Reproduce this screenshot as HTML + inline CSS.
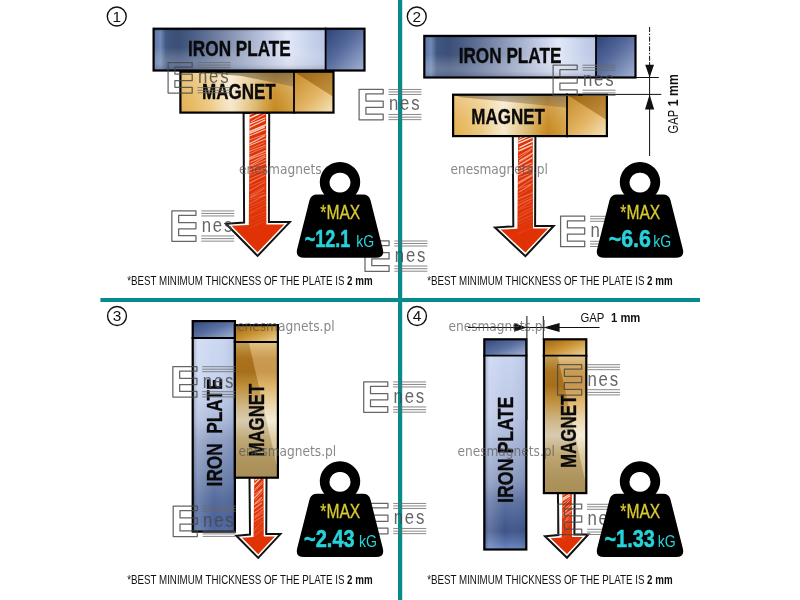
<!DOCTYPE html>
<html lang="en"><head><meta charset="utf-8"><title>Magnet holding force vs plate position</title>
<style>html,body{margin:0;padding:0;background:#fff;}body{width:800px;height:600px;overflow:hidden;}svg{display:block;will-change:transform;}</style>
</head><body>
<svg width="800" height="600" viewBox="0 0 800 600">
<defs>
<linearGradient id="ironH" x1="0" x2="1" y1="0" y2="0">
<stop offset="0.008" stop-color="#5f78a8"/><stop offset="0.040" stop-color="#7088b6"/><stop offset="0.072" stop-color="#40577f"/><stop offset="0.143" stop-color="#3b4f78"/><stop offset="0.223" stop-color="#4a5d84"/><stop offset="0.303" stop-color="#5e6f94"/><stop offset="0.382" stop-color="#7482a4"/><stop offset="0.462" stop-color="#8a97b6"/><stop offset="0.541" stop-color="#a0acc8"/><stop offset="0.621" stop-color="#b6c0da"/><stop offset="0.701" stop-color="#ccd4ea"/><stop offset="0.780" stop-color="#e2e8f8"/><stop offset="0.860" stop-color="#d2dbf0"/><stop offset="0.939" stop-color="#c2cde8"/><stop offset="1.000" stop-color="#bac7e4"/>
</linearGradient>
<linearGradient id="ironCap" x1="0" x2="1" y1="0" y2="1">
 <stop offset="0" stop-color="#2c4276"/><stop offset="0.45" stop-color="#566a9c"/><stop offset="1" stop-color="#a4b3d4"/>
</linearGradient>
<linearGradient id="ironEdge" x1="0" x2="0" y1="0" y2="1">
 <stop offset="0" stop-color="#1c2c55" stop-opacity="0.5"/><stop offset="0.07" stop-color="#1c2c55" stop-opacity="0"/>
 <stop offset="0.85" stop-color="#1c2c55" stop-opacity="0"/><stop offset="1" stop-color="#1c2c55" stop-opacity="0.25"/>
</linearGradient>
<linearGradient id="magH" x1="0" x2="1" y1="0" y2="0">
<stop offset="0" stop-color="#e2ae50"/><stop offset="0.1" stop-color="#e6b85e"/><stop offset="0.25" stop-color="#ecc880"/><stop offset="0.36" stop-color="#f2dcac"/><stop offset="0.445" stop-color="#f6e8cc"/><stop offset="0.55" stop-color="#ecd29c"/><stop offset="0.657" stop-color="#dcb870"/><stop offset="0.75" stop-color="#d09c3c"/><stop offset="0.83" stop-color="#c6861c"/><stop offset="0.92" stop-color="#cc9430"/><stop offset="1" stop-color="#d4a244"/>
</linearGradient>
<linearGradient id="magCapLo" x1="0" x2="1" y1="0" y2="1">
 <stop offset="0" stop-color="#c48a2a"/><stop offset="0.55" stop-color="#e3b463"/><stop offset="1" stop-color="#f6e4bd"/>
</linearGradient>
<linearGradient id="magCapHi" x1="0" x2="1" y1="0" y2="1">
 <stop offset="0" stop-color="#9a6210"/><stop offset="1" stop-color="#c79846"/>
</linearGradient>
<linearGradient id="ironLow" x1="0" x2="0" y1="0" y2="1">
 <stop offset="0" stop-color="#fff" stop-opacity="0"/><stop offset="0.45" stop-color="#fff" stop-opacity="0"/>
 <stop offset="0.8" stop-color="#c8cede" stop-opacity="0.3"/><stop offset="1" stop-color="#c8cede" stop-opacity="0.22"/>
</linearGradient>
<linearGradient id="magTop" x1="0" x2="0" y1="0" y2="1">
 <stop offset="0" stop-color="#fff" stop-opacity="0.3"/><stop offset="0.55" stop-color="#fff" stop-opacity="0.1"/><stop offset="1" stop-color="#fff" stop-opacity="0"/>
</linearGradient>
<linearGradient id="magShadow" x1="0" x2="0" y1="0" y2="1">
 <stop offset="0" stop-color="#4a3a20" stop-opacity="0.55"/><stop offset="1" stop-color="#4a3a20" stop-opacity="0.25"/>
</linearGradient>
<linearGradient id="ironV" x1="0" x2="0" y1="0" y2="1">
<stop offset="0" stop-color="#ccd8f2"/><stop offset="0.25" stop-color="#c6d2ee"/><stop offset="0.42" stop-color="#aebcdc"/><stop offset="0.53" stop-color="#8e9ec2"/><stop offset="0.65" stop-color="#788cb6"/><stop offset="0.74" stop-color="#6a7eaa"/><stop offset="0.84" stop-color="#546a9c"/><stop offset="0.94" stop-color="#48629a"/><stop offset="1" stop-color="#4e68a0"/>
</linearGradient>
<linearGradient id="ironV4" x1="0" x2="0" y1="0" y2="1">
<stop offset="0" stop-color="#c8d4f0"/><stop offset="0.3" stop-color="#bcc8e6"/><stop offset="0.5" stop-color="#a2b0d2"/><stop offset="0.65" stop-color="#8696be"/><stop offset="0.75" stop-color="#5e72a0"/><stop offset="0.83" stop-color="#4c6294"/><stop offset="0.905" stop-color="#3e5488"/><stop offset="0.96" stop-color="#5470a8"/><stop offset="1" stop-color="#6c88c0"/>
</linearGradient>
<linearGradient id="ironVside" x1="0" x2="1" y1="0" y2="0">
 <stop offset="0" stop-color="#2a3c6c" stop-opacity="0.35"/><stop offset="0.12" stop-color="#ffffff" stop-opacity="0.18"/>
 <stop offset="0.5" stop-color="#ffffff" stop-opacity="0"/><stop offset="1" stop-color="#2a3c6c" stop-opacity="0.12"/>
</linearGradient>
<linearGradient id="ironCapV" x1="0" x2="1" y1="0" y2="1">
 <stop offset="0" stop-color="#32487c"/><stop offset="0.5" stop-color="#5a70a2"/><stop offset="1" stop-color="#a5b5d7"/>
</linearGradient>
<linearGradient id="magV" x1="0" x2="0" y1="0" y2="1">
<stop offset="0" stop-color="#d8b470"/><stop offset="0.05" stop-color="#cc9a40"/><stop offset="0.12" stop-color="#bc7c1c"/><stop offset="0.22" stop-color="#b87818"/><stop offset="0.33" stop-color="#d4a040"/><stop offset="0.48" stop-color="#e8d0a0"/><stop offset="0.58" stop-color="#f2e6cc"/><stop offset="0.72" stop-color="#d4bc84"/><stop offset="0.88" stop-color="#c0a468"/><stop offset="1" stop-color="#b89c60"/>
</linearGradient>
<linearGradient id="magCapV" x1="0" x2="1" y1="0" y2="1">
 <stop offset="0" stop-color="#9d6512"/><stop offset="0.45" stop-color="#c8902f"/><stop offset="1" stop-color="#efd59a"/>
</linearGradient>
<linearGradient id="magVshine" x1="0" x2="1" y1="0" y2="0.35">
 <stop offset="0" stop-color="#7a4c08" stop-opacity="0.28"/><stop offset="0.45" stop-color="#7a4c08" stop-opacity="0"/>
 <stop offset="0.55" stop-color="#fff" stop-opacity="0.18"/><stop offset="1" stop-color="#fff" stop-opacity="0"/>
</linearGradient>
<pattern id="hatch" width="4.2" height="4.2" patternUnits="userSpaceOnUse" patternTransform="rotate(-24)">
 <rect x="0" y="0" width="4.2" height="1.35" fill="#fff"/>
</pattern>
<linearGradient id="fadeg" x1="0" x2="0" y1="0" y2="1">
 <stop offset="0" stop-color="#fff" stop-opacity="0.75"/><stop offset="0.45" stop-color="#fff" stop-opacity="0.5"/>
 <stop offset="0.85" stop-color="#fff" stop-opacity="0.12"/><stop offset="1" stop-color="#fff" stop-opacity="0"/>
</linearGradient>
<mask id="fade1" maskUnits="userSpaceOnUse" x="240" y="110" width="40" height="120"><rect x="240" y="112" width="40" height="112" fill="url(#fadeg)"/></mask>
<mask id="fade2" maskUnits="userSpaceOnUse" x="505" y="130" width="40" height="110"><rect x="505" y="135" width="40" height="94" fill="url(#fadeg)"/></mask>
<mask id="fade3" maskUnits="userSpaceOnUse" x="240" y="470" width="40" height="70"><rect x="240" y="477" width="40" height="59" fill="url(#fadeg)"/></mask>
<mask id="fade4" maskUnits="userSpaceOnUse" x="550" y="485" width="40" height="60"><rect x="550" y="492" width="40" height="45" fill="url(#fadeg)"/></mask>
</defs>
<rect width="800" height="600" fill="#fff"/>
<!-- panel 1 -->
<path d="M243.6,113 L244.1,222.6 L226,223.79999999999998 L257.6,255.9 L289.8,222.1 L268.9,222.1 L269.2,113 Z" fill="#fff" stroke="#111" stroke-width="2" stroke-linejoin="miter"/>
<clipPath id="ac1"><path d="M249.6,113 L248.79999999999998,225.0 L231.6,225.8 L257.6,252.3 L284.2,224.6 L266.4,224.6 L266.09999999999997,113 Z"/></clipPath>
<g clip-path="url(#ac1)">
<rect x="226" y="113" width="63.80000000000001" height="142.9" fill="#e03205"/>
<line x1="249.5" y1="114.6" x2="266.8" y2="107.4" stroke="#fff" stroke-width="1.07" opacity="0.93"/>
<line x1="248.3" y1="118.8" x2="265.8" y2="110.7" stroke="#fff" stroke-width="1.32" opacity="0.91"/>
<line x1="250.8" y1="122.0" x2="267.3" y2="112.7" stroke="#fff" stroke-width="0.75" opacity="0.89"/>
<line x1="248.7" y1="124.7" x2="265.4" y2="117.7" stroke="#fff" stroke-width="1.10" opacity="0.85"/>
<line x1="248.2" y1="128.2" x2="265.1" y2="120.0" stroke="#fff" stroke-width="1.19" opacity="0.82"/>
<line x1="247.9" y1="132.2" x2="267.4" y2="124.3" stroke="#fff" stroke-width="1.47" opacity="0.78"/>
<line x1="248.9" y1="133.7" x2="264.7" y2="127.0" stroke="#fff" stroke-width="1.44" opacity="0.76"/>
<line x1="248.0" y1="136.6" x2="265.6" y2="129.3" stroke="#fff" stroke-width="1.05" opacity="0.73"/>
<line x1="249.0" y1="140.0" x2="267.3" y2="133.6" stroke="#fff" stroke-width="0.66" opacity="0.70"/>
<line x1="249.4" y1="143.8" x2="264.8" y2="135.7" stroke="#fff" stroke-width="1.32" opacity="0.67"/>
<line x1="249.6" y1="145.4" x2="267.1" y2="138.4" stroke="#fff" stroke-width="1.07" opacity="0.65"/>
<line x1="250.2" y1="148.7" x2="264.6" y2="142.5" stroke="#fff" stroke-width="0.60" opacity="0.62"/>
<line x1="248.6" y1="151.7" x2="265.5" y2="145.2" stroke="#fff" stroke-width="0.91" opacity="0.59"/>
<line x1="248.3" y1="154.3" x2="265.5" y2="147.0" stroke="#fff" stroke-width="0.62" opacity="0.57"/>
<line x1="248.8" y1="158.1" x2="266.1" y2="150.7" stroke="#fff" stroke-width="1.28" opacity="0.54"/>
<line x1="248.8" y1="159.6" x2="267.2" y2="152.8" stroke="#fff" stroke-width="1.21" opacity="0.52"/>
<line x1="250.4" y1="162.6" x2="265.4" y2="155.6" stroke="#fff" stroke-width="1.08" opacity="0.50"/>
<line x1="249.4" y1="166.0" x2="265.6" y2="156.9" stroke="#fff" stroke-width="1.03" opacity="0.48"/>
<line x1="249.0" y1="167.1" x2="266.1" y2="159.8" stroke="#fff" stroke-width="0.99" opacity="0.46"/>
<line x1="248.3" y1="170.4" x2="266.1" y2="162.9" stroke="#fff" stroke-width="1.04" opacity="0.43"/>
<line x1="247.8" y1="173.6" x2="265.8" y2="167.9" stroke="#fff" stroke-width="0.92" opacity="0.40"/>
<line x1="249.2" y1="175.6" x2="264.4" y2="169.7" stroke="#fff" stroke-width="0.59" opacity="0.39"/>
<line x1="249.3" y1="179.3" x2="266.1" y2="172.0" stroke="#fff" stroke-width="0.96" opacity="0.36"/>
<line x1="249.1" y1="183.3" x2="265.5" y2="175.0" stroke="#fff" stroke-width="1.40" opacity="0.34"/>
<line x1="249.7" y1="186.4" x2="265.3" y2="179.9" stroke="#fff" stroke-width="0.65" opacity="0.31"/>
<line x1="249.2" y1="190.9" x2="265.0" y2="182.1" stroke="#fff" stroke-width="1.09" opacity="0.28"/>
<line x1="250.0" y1="195.1" x2="264.7" y2="186.2" stroke="#fff" stroke-width="0.94" opacity="0.25"/>
<line x1="250.7" y1="196.8" x2="264.5" y2="188.2" stroke="#fff" stroke-width="1.41" opacity="0.24"/>
<line x1="249.6" y1="198.0" x2="264.6" y2="192.0" stroke="#fff" stroke-width="1.17" opacity="0.22"/>
<line x1="248.4" y1="200.2" x2="266.8" y2="194.4" stroke="#fff" stroke-width="0.85" opacity="0.21"/>
<line x1="249.2" y1="203.8" x2="265.2" y2="194.8" stroke="#fff" stroke-width="1.50" opacity="0.19"/>
<line x1="249.8" y1="206.4" x2="265.7" y2="199.2" stroke="#fff" stroke-width="1.02" opacity="0.17"/>
<line x1="249.7" y1="209.2" x2="266.8" y2="201.2" stroke="#fff" stroke-width="0.86" opacity="0.16"/>
<line x1="249.8" y1="213.0" x2="267.2" y2="204.0" stroke="#fff" stroke-width="1.37" opacity="0.14"/>
<line x1="248.6" y1="214.2" x2="266.0" y2="208.4" stroke="#fff" stroke-width="0.59" opacity="0.12"/>
<line x1="249.9" y1="218.2" x2="265.9" y2="211.6" stroke="#fff" stroke-width="1.13" opacity="0.11"/>
<line x1="248.8" y1="221.6" x2="265.2" y2="214.3" stroke="#fff" stroke-width="0.76" opacity="0.09"/>
<line x1="249.2" y1="224.6" x2="265.3" y2="217.2" stroke="#fff" stroke-width="0.95" opacity="0.08"/>
<line x1="250.2" y1="228.0" x2="264.5" y2="220.9" stroke="#fff" stroke-width="1.30" opacity="0.08"/>
</g>
<rect x="180.4" y="71.69999999999999" width="113.6" height="40.900000000000006" fill="url(#magH)"/>
<rect x="180.4" y="71.69999999999999" width="113.6" height="40.900000000000006" fill="url(#magTop)"/>
<rect x="294" y="71.69999999999999" width="39.5" height="40.90000000000002" fill="url(#magCapLo)"/>
<path d="M294,71.69999999999999 H333.5 V97.05799999999999 Z" fill="url(#magCapHi)"/>
<path d="M180.4,71.69999999999999 H294 V86.69999999999999 L240.4,75.69999999999999 Z" fill="url(#magShadow)"/>
<rect x="180.4" y="71.69999999999999" width="153.10000000000002" height="40.900000000000006" fill="none" stroke="#000" stroke-width="2.2"/>
<line x1="294" x2="294" y1="70.6" y2="113.7" stroke="#000" stroke-width="1.8"/>
<rect x="153.6" y="28.700000000000003" width="172.00000000000003" height="41.79999999999999" fill="url(#ironH)"/>
<rect x="153.6" y="28.700000000000003" width="172.00000000000003" height="41.79999999999999" fill="url(#ironEdge)"/>
<rect x="153.6" y="28.700000000000003" width="172.00000000000003" height="41.79999999999999" fill="url(#ironLow)"/>
<rect x="325.6" y="28.700000000000003" width="38.9" height="41.79999999999999" fill="url(#ironCap)"/>
<rect x="153.6" y="28.700000000000003" width="210.90000000000003" height="41.79999999999999" fill="none" stroke="#000" stroke-width="2.2"/>
<line x1="325.6" x2="325.6" y1="27.6" y2="71.6" stroke="#000" stroke-width="1.8"/>
<text transform="translate(188.1,55.7) scale(0.8107,1)" font-family="'Liberation Sans', sans-serif" font-size="21.2" font-weight="bold" fill="#0a0a0a" stroke="#0a0a0a" stroke-width="0.35" xml:space="preserve">IRON PLATE</text>
<text transform="translate(202,98.9) scale(0.8034,1)" font-family="'Liberation Sans', sans-serif" font-size="21.2" font-weight="bold" fill="#0a0a0a" stroke="#0a0a0a" stroke-width="0.35" xml:space="preserve">MAGNET</text>
<circle cx="116.75" cy="16.5" r="9.45" fill="#fff" stroke="#111" stroke-width="1.4"/><text x="116.75" y="21.6" text-anchor="middle" font-family="'Liberation Sans', sans-serif" font-size="15.4" fill="#111">1</text>
<text transform="translate(127.2,285) scale(0.8205,1)" font-family="'Liberation Sans', sans-serif" font-size="11.9" fill="#111" xml:space="preserve">*BEST MINIMUM THICKNESS OF THE PLATE IS <tspan font-weight="bold">2 mm</tspan></text>
<!-- panel 2 -->
<path d="M512.8,136 L513.3,226.4 L495,227.6 L525.4,256.2 L553.7,225.9 L535.1,225.9 L535.4,136 Z" fill="#fff" stroke="#111" stroke-width="2" stroke-linejoin="miter"/>
<clipPath id="ac2"><path d="M518.1999999999999,136 L517.4,228.8 L500.6,229.60000000000002 L525.4,252.6 L548.1,228.4 L533.0,228.4 L532.7,136 Z"/></clipPath>
<g clip-path="url(#ac2)">
<rect x="495" y="136" width="58.700000000000045" height="120.19999999999999" fill="#e03205"/>
<line x1="519.3" y1="138.4" x2="533.1" y2="129.6" stroke="#fff" stroke-width="1.02" opacity="0.93"/>
<line x1="516.7" y1="141.7" x2="533.9" y2="133.6" stroke="#fff" stroke-width="1.20" opacity="0.91"/>
<line x1="517.9" y1="143.6" x2="533.0" y2="137.1" stroke="#fff" stroke-width="1.25" opacity="0.88"/>
<line x1="519.4" y1="147.7" x2="533.8" y2="140.6" stroke="#fff" stroke-width="1.45" opacity="0.83"/>
<line x1="518.5" y1="151.0" x2="532.3" y2="144.9" stroke="#fff" stroke-width="1.38" opacity="0.79"/>
<line x1="519.0" y1="155.9" x2="532.1" y2="148.2" stroke="#fff" stroke-width="0.71" opacity="0.74"/>
<line x1="517.8" y1="159.2" x2="531.0" y2="149.9" stroke="#fff" stroke-width="0.58" opacity="0.71"/>
<line x1="519.2" y1="161.1" x2="533.9" y2="152.3" stroke="#fff" stroke-width="1.31" opacity="0.69"/>
<line x1="517.5" y1="163.7" x2="531.1" y2="155.2" stroke="#fff" stroke-width="0.55" opacity="0.66"/>
<line x1="517.1" y1="166.6" x2="532.3" y2="157.6" stroke="#fff" stroke-width="1.27" opacity="0.63"/>
<line x1="517.2" y1="169.7" x2="531.6" y2="162.7" stroke="#fff" stroke-width="1.03" opacity="0.58"/>
<line x1="518.1" y1="172.3" x2="533.6" y2="164.6" stroke="#fff" stroke-width="1.10" opacity="0.56"/>
<line x1="517.4" y1="175.2" x2="531.3" y2="168.5" stroke="#fff" stroke-width="1.42" opacity="0.52"/>
<line x1="518.7" y1="177.8" x2="533.0" y2="172.3" stroke="#fff" stroke-width="0.77" opacity="0.49"/>
<line x1="518.6" y1="182.0" x2="533.1" y2="173.9" stroke="#fff" stroke-width="0.77" opacity="0.46"/>
<line x1="516.5" y1="184.5" x2="532.3" y2="175.4" stroke="#fff" stroke-width="1.49" opacity="0.44"/>
<line x1="519.3" y1="187.6" x2="532.2" y2="179.2" stroke="#fff" stroke-width="0.90" opacity="0.40"/>
<line x1="516.9" y1="189.4" x2="533.7" y2="182.9" stroke="#fff" stroke-width="0.70" opacity="0.38"/>
<line x1="518.8" y1="192.3" x2="531.2" y2="184.6" stroke="#fff" stroke-width="1.34" opacity="0.36"/>
<line x1="516.7" y1="196.8" x2="531.7" y2="187.6" stroke="#fff" stroke-width="0.55" opacity="0.32"/>
<line x1="516.6" y1="199.6" x2="533.7" y2="192.4" stroke="#fff" stroke-width="1.16" opacity="0.29"/>
<line x1="517.2" y1="203.1" x2="533.5" y2="195.5" stroke="#fff" stroke-width="0.74" opacity="0.26"/>
<line x1="517.6" y1="205.6" x2="532.5" y2="198.1" stroke="#fff" stroke-width="1.22" opacity="0.24"/>
<line x1="519.3" y1="208.6" x2="531.7" y2="201.3" stroke="#fff" stroke-width="1.02" opacity="0.21"/>
<line x1="517.5" y1="210.4" x2="533.9" y2="204.2" stroke="#fff" stroke-width="0.82" opacity="0.19"/>
<line x1="519.1" y1="214.5" x2="533.0" y2="207.3" stroke="#fff" stroke-width="1.07" opacity="0.17"/>
<line x1="518.2" y1="217.9" x2="532.9" y2="210.2" stroke="#fff" stroke-width="1.43" opacity="0.14"/>
<line x1="517.5" y1="221.6" x2="532.2" y2="214.9" stroke="#fff" stroke-width="1.25" opacity="0.12"/>
<line x1="518.1" y1="224.5" x2="531.9" y2="218.2" stroke="#fff" stroke-width="1.02" opacity="0.10"/>
<line x1="517.9" y1="228.6" x2="532.4" y2="221.3" stroke="#fff" stroke-width="0.95" opacity="0.08"/>
<line x1="519.4" y1="231.2" x2="531.5" y2="224.6" stroke="#fff" stroke-width="0.51" opacity="0.08"/>
<line x1="517.2" y1="234.0" x2="532.4" y2="227.7" stroke="#fff" stroke-width="1.25" opacity="0.08"/>
</g>
<rect x="453.1" y="94.69999999999999" width="113.9" height="41.39999999999999" fill="url(#magH)"/>
<rect x="453.1" y="94.69999999999999" width="113.9" height="41.39999999999999" fill="url(#magTop)"/>
<rect x="567" y="94.69999999999999" width="39.89999999999998" height="41.400000000000006" fill="url(#magCapLo)"/>
<path d="M567,94.69999999999999 H606.9 V120.368 Z" fill="url(#magCapHi)"/>
<path d="M453.1,94.69999999999999 H567 V107.69999999999999 L461.1,97.19999999999999 Z" fill="url(#magShadow)" opacity="0.85"/>
<rect x="453.1" y="94.69999999999999" width="153.8" height="41.39999999999999" fill="none" stroke="#000" stroke-width="2.2"/>
<line x1="567" x2="567" y1="93.6" y2="137.2" stroke="#000" stroke-width="1.8"/>
<rect x="424.3" y="35.9" width="171.70000000000002" height="41.599999999999994" fill="url(#ironH)"/>
<rect x="424.3" y="35.9" width="171.70000000000002" height="41.599999999999994" fill="url(#ironEdge)"/>
<rect x="424.3" y="35.9" width="171.70000000000002" height="41.599999999999994" fill="url(#ironLow)"/>
<rect x="596" y="35.9" width="39.50000000000002" height="41.599999999999994" fill="url(#ironCap)"/>
<rect x="424.3" y="35.9" width="211.20000000000005" height="41.599999999999994" fill="none" stroke="#000" stroke-width="2.2"/>
<line x1="596" x2="596" y1="34.8" y2="78.6" stroke="#000" stroke-width="1.8"/>
<text transform="translate(458.7,63.1) scale(0.8107,1)" font-family="'Liberation Sans', sans-serif" font-size="21.2" font-weight="bold" fill="#0a0a0a" stroke="#0a0a0a" stroke-width="0.35" xml:space="preserve">IRON PLATE</text>
<text transform="translate(471.3,124.2) scale(0.8023,1)" font-family="'Liberation Sans', sans-serif" font-size="21.2" font-weight="bold" fill="#0a0a0a" stroke="#0a0a0a" stroke-width="0.35" xml:space="preserve">MAGNET</text>
<g stroke="#111" stroke-width="1" fill="none">
<line x1="649.6" x2="649.6" y1="27" y2="62" stroke-dasharray="5 1.6 1.4 1.6"/>
<line x1="649.6" x2="649.6" y1="62" y2="156"/>
<line x1="636" x2="658.8" y1="77.5" y2="77.5"/>
<line x1="608" x2="661.3" y1="94.4" y2="94.4"/>
</g>
<path d="M649.6,77.6 L645.2,64.8 L654,64.8 Z M649.6,94.4 L645,109.6 L654.2,109.6 Z" fill="#111"/>
<text transform="translate(678.3,133.4) rotate(-90) scale(0.7982,1)" font-family="'Liberation Sans', sans-serif" font-size="14" fill="#111" xml:space="preserve">GAP</text>
<text transform="translate(678.3,106.2) rotate(-90) scale(0.8750,1)" font-family="'Liberation Sans', sans-serif" font-size="14" font-weight="bold" fill="#111" xml:space="preserve">1 mm</text>
<circle cx="416.75" cy="16.5" r="9.45" fill="#fff" stroke="#111" stroke-width="1.4"/><text x="416.75" y="21.6" text-anchor="middle" font-family="'Liberation Sans', sans-serif" font-size="15.4" fill="#111">2</text>
<text transform="translate(427.2,285) scale(0.8205,1)" font-family="'Liberation Sans', sans-serif" font-size="11.9" fill="#111" xml:space="preserve">*BEST MINIMUM THICKNESS OF THE PLATE IS <tspan font-weight="bold">2 mm</tspan></text>
<!-- panel 3 -->
<path d="M249.5,477 L250.0,534.6 L236.4,535.8000000000001 L258.2,557.9 L280.4,534.1 L266.2,534.1 L266.5,477 Z" fill="#fff" stroke="#111" stroke-width="2" stroke-linejoin="miter"/>
<clipPath id="ac3"><path d="M254.3,477 L253.5,537.0 L242.0,537.8 L258.2,554.3 L274.79999999999995,536.6 L263.8,536.6 L263.5,477 Z"/></clipPath>
<g clip-path="url(#ac3)">
<rect x="236.4" y="477" width="43.99999999999997" height="80.89999999999998" fill="#e03205"/>
<line x1="253.0" y1="479.4" x2="261.8" y2="470.6" stroke="#fff" stroke-width="1.21" opacity="0.93"/>
<line x1="254.8" y1="480.2" x2="264.3" y2="474.3" stroke="#fff" stroke-width="1.17" opacity="0.92"/>
<line x1="253.8" y1="485.0" x2="262.2" y2="476.5" stroke="#fff" stroke-width="1.22" opacity="0.86"/>
<line x1="255.4" y1="488.7" x2="262.6" y2="481.1" stroke="#fff" stroke-width="0.62" opacity="0.78"/>
<line x1="252.8" y1="492.5" x2="262.5" y2="483.1" stroke="#fff" stroke-width="0.80" opacity="0.73"/>
<line x1="253.4" y1="495.0" x2="263.2" y2="488.2" stroke="#fff" stroke-width="0.66" opacity="0.66"/>
<line x1="253.4" y1="498.9" x2="262.1" y2="489.7" stroke="#fff" stroke-width="1.39" opacity="0.61"/>
<line x1="254.9" y1="500.4" x2="262.3" y2="492.2" stroke="#fff" stroke-width="0.60" opacity="0.58"/>
<line x1="254.7" y1="503.7" x2="262.0" y2="497.2" stroke="#fff" stroke-width="1.36" opacity="0.51"/>
<line x1="252.9" y1="505.5" x2="263.4" y2="499.4" stroke="#fff" stroke-width="0.99" opacity="0.48"/>
<line x1="254.0" y1="508.9" x2="261.8" y2="502.9" stroke="#fff" stroke-width="1.47" opacity="0.42"/>
<line x1="254.4" y1="512.8" x2="264.0" y2="506.3" stroke="#fff" stroke-width="1.03" opacity="0.37"/>
<line x1="254.9" y1="516.4" x2="263.6" y2="509.3" stroke="#fff" stroke-width="1.15" opacity="0.32"/>
<line x1="253.1" y1="519.0" x2="263.1" y2="512.5" stroke="#fff" stroke-width="1.33" opacity="0.28"/>
<line x1="253.6" y1="521.9" x2="264.6" y2="515.4" stroke="#fff" stroke-width="1.37" opacity="0.24"/>
<line x1="254.8" y1="525.2" x2="264.7" y2="517.9" stroke="#fff" stroke-width="0.81" opacity="0.20"/>
<line x1="254.1" y1="530.1" x2="263.1" y2="521.3" stroke="#fff" stroke-width="1.21" opacity="0.16"/>
<line x1="253.4" y1="531.7" x2="263.9" y2="525.3" stroke="#fff" stroke-width="0.90" opacity="0.13"/>
<line x1="254.4" y1="535.4" x2="264.7" y2="526.7" stroke="#fff" stroke-width="1.41" opacity="0.10"/>
<line x1="253.8" y1="537.6" x2="262.9" y2="529.4" stroke="#fff" stroke-width="1.04" opacity="0.08"/>
<line x1="254.8" y1="541.0" x2="263.8" y2="534.0" stroke="#fff" stroke-width="0.77" opacity="0.08"/>
</g>
<rect x="192.7" y="338" width="42.2" height="193.60000000000005" fill="url(#ironV)"/>
<rect x="192.7" y="338" width="42.2" height="193.60000000000005" fill="url(#ironVside)"/>
<rect x="192.7" y="321.1" width="42.2" height="16.9" fill="url(#ironCapV)"/>
<rect x="192.7" y="321.1" width="42.2" height="210.50000000000006" fill="none" stroke="#000" stroke-width="2.2"/>
<line x1="191.6" x2="236" y1="338" y2="338" stroke="#000" stroke-width="1.8"/>
<rect x="234.9" y="342" width="42.999999999999986" height="135.70000000000002" fill="url(#magV)"/>
<path d="M248.716,342 H277.9 V470.8 Z" fill="#fff" opacity="0.24"/>
<path d="M234.9,342 H248.716 L277.9,470.8 V477.7 H234.9 Z" fill="#5a4a28" opacity="0.17"/>
<rect x="234.9" y="325.1" width="42.999999999999986" height="16.9" fill="url(#magCapV)"/>
<rect x="234.9" y="325.1" width="42.999999999999986" height="152.60000000000002" fill="none" stroke="#000" stroke-width="2.2"/>
<line x1="233.8" x2="279" y1="342" y2="342" stroke="#000" stroke-width="1.8"/>
<text transform="translate(221.8,486.4) rotate(-90) scale(0.8139,1)" font-family="'Liberation Sans', sans-serif" font-size="21.2" font-weight="bold" fill="#0a0a0a" stroke="#0a0a0a" stroke-width="0.35" xml:space="preserve">IRON  PLATE</text>
<text transform="translate(263.7,456.6) rotate(-90) scale(0.7947,1)" font-family="'Liberation Sans', sans-serif" font-size="21.2" font-weight="bold" fill="#0a0a0a" stroke="#0a0a0a" stroke-width="0.35" xml:space="preserve">MAGNET</text>
<circle cx="117" cy="316" r="9.45" fill="#fff" stroke="#111" stroke-width="1.4"/><text x="117" y="321.1" text-anchor="middle" font-family="'Liberation Sans', sans-serif" font-size="15.4" fill="#111">3</text>
<text transform="translate(127.2,584) scale(0.8205,1)" font-family="'Liberation Sans', sans-serif" font-size="11.9" fill="#111" xml:space="preserve">*BEST MINIMUM THICKNESS OF THE PLATE IS <tspan font-weight="bold">2 mm</tspan></text>
<!-- panel 4 -->
<path d="M557.9,492 L558.4,535 L545,536.2 L567,557.7 L588.3,534.5 L574.4000000000001,534.5 L574.7,492 Z" fill="#fff" stroke="#111" stroke-width="2" stroke-linejoin="miter"/>
<clipPath id="ac4"><path d="M562.4999999999999,492 L561.6999999999999,537.4 L550.6,538.1999999999999 L567,554.1 L582.6999999999999,537.0 L572.1,537.0 L571.8000000000001,492 Z"/></clipPath>
<g clip-path="url(#ac4)">
<rect x="545" y="492" width="43.299999999999955" height="65.70000000000005" fill="#e03205"/>
<line x1="561.9" y1="493.0" x2="571.0" y2="487.0" stroke="#fff" stroke-width="0.51" opacity="0.93"/>
<line x1="563.0" y1="495.3" x2="572.7" y2="488.9" stroke="#fff" stroke-width="0.61" opacity="0.93"/>
<line x1="562.3" y1="498.7" x2="571.8" y2="492.7" stroke="#fff" stroke-width="1.16" opacity="0.84"/>
<line x1="560.8" y1="501.4" x2="570.3" y2="495.6" stroke="#fff" stroke-width="1.50" opacity="0.77"/>
<line x1="561.8" y1="504.7" x2="570.2" y2="497.9" stroke="#fff" stroke-width="0.70" opacity="0.70"/>
<line x1="562.3" y1="507.5" x2="570.2" y2="499.7" stroke="#fff" stroke-width="0.72" opacity="0.65"/>
<line x1="563.2" y1="510.5" x2="570.1" y2="504.2" stroke="#fff" stroke-width="0.86" opacity="0.56"/>
<line x1="562.7" y1="513.7" x2="572.4" y2="504.8" stroke="#fff" stroke-width="1.24" opacity="0.52"/>
<line x1="562.6" y1="516.1" x2="572.4" y2="509.8" stroke="#fff" stroke-width="1.23" opacity="0.44"/>
<line x1="561.9" y1="518.3" x2="571.2" y2="511.5" stroke="#fff" stroke-width="0.84" opacity="0.40"/>
<line x1="563.7" y1="523.4" x2="570.7" y2="514.0" stroke="#fff" stroke-width="1.46" opacity="0.32"/>
<line x1="562.3" y1="525.2" x2="571.1" y2="517.2" stroke="#fff" stroke-width="0.68" opacity="0.27"/>
<line x1="562.5" y1="527.8" x2="571.0" y2="518.6" stroke="#fff" stroke-width="0.69" opacity="0.24"/>
<line x1="562.6" y1="529.8" x2="570.1" y2="520.7" stroke="#fff" stroke-width="0.90" opacity="0.20"/>
<line x1="562.0" y1="531.9" x2="570.7" y2="523.2" stroke="#fff" stroke-width="0.95" opacity="0.17"/>
<line x1="563.6" y1="533.6" x2="572.7" y2="527.7" stroke="#fff" stroke-width="0.62" opacity="0.12"/>
<line x1="563.3" y1="537.1" x2="571.7" y2="528.8" stroke="#fff" stroke-width="0.84" opacity="0.10"/>
<line x1="561.8" y1="539.3" x2="571.3" y2="532.6" stroke="#fff" stroke-width="1.29" opacity="0.08"/>
<line x1="561.1" y1="542.2" x2="570.9" y2="536.3" stroke="#fff" stroke-width="0.54" opacity="0.08"/>
</g>
<rect x="484.3" y="355.6" width="41.999999999999986" height="193.9" fill="url(#ironV4)"/>
<rect x="484.3" y="355.6" width="41.999999999999986" height="193.9" fill="url(#ironVside)"/>
<rect x="484.3" y="339.3" width="41.999999999999986" height="16.300000000000033" fill="url(#ironCapV)"/>
<rect x="484.3" y="339.3" width="41.999999999999986" height="210.20000000000005" fill="none" stroke="#000" stroke-width="2.2"/>
<line x1="483.2" x2="527.4" y1="355.6" y2="355.6" stroke="#000" stroke-width="1.8"/>
<rect x="543.9" y="355.6" width="42.40000000000002" height="137.49999999999997" fill="url(#magV)"/>
<path d="M557.5179999999999,355.6 H586.3 V486.2 Z" fill="#fff" opacity="0.24"/>
<path d="M543.9,355.6 H557.5179999999999 L586.3,486.2 V493.09999999999997 H543.9 Z" fill="#5a4a28" opacity="0.17"/>
<rect x="543.9" y="339.3" width="42.40000000000002" height="16.300000000000033" fill="url(#magCapV)"/>
<rect x="543.9" y="339.3" width="42.40000000000002" height="153.8" fill="none" stroke="#000" stroke-width="2.2"/>
<line x1="542.8" x2="587.4" y1="355.6" y2="355.6" stroke="#000" stroke-width="1.8"/>
<text transform="translate(513.4,503) rotate(-90) scale(0.8399,1)" font-family="'Liberation Sans', sans-serif" font-size="21.2" font-weight="bold" fill="#0a0a0a" stroke="#0a0a0a" stroke-width="0.35" xml:space="preserve">IRON PLATE</text>
<text transform="translate(576.3,468) rotate(-90) scale(0.7990,1)" font-family="'Liberation Sans', sans-serif" font-size="21.2" font-weight="bold" fill="#0a0a0a" stroke="#0a0a0a" stroke-width="0.35" xml:space="preserve">MAGNET</text>
<g stroke="#111" stroke-width="1" fill="none">
<line x1="526.9" x2="526.9" y1="316" y2="420"/>
<line x1="543.3" x2="543.3" y1="316" y2="340"/>
<line x1="468" x2="599.6" y1="327.5" y2="327.5"/>
</g>
<path d="M526.8,327.5 L514.2,323.3 L514.2,331.7 Z M543.4,327.5 L559.6,323.1 L559.6,331.9 Z" fill="#111"/>
<text transform="translate(580.4,322) scale(0.8356,1)" font-family="'Liberation Sans', sans-serif" font-size="13.6" fill="#111" xml:space="preserve">GAP</text>
<text transform="translate(611,322) scale(0.8275,1)" font-family="'Liberation Sans', sans-serif" font-size="13.6" font-weight="bold" fill="#111" xml:space="preserve">1 mm</text>
<circle cx="417" cy="316" r="9.45" fill="#fff" stroke="#111" stroke-width="1.4"/><text x="417" y="321.1" text-anchor="middle" font-family="'Liberation Sans', sans-serif" font-size="15.4" fill="#111">4</text>
<text transform="translate(427.2,584) scale(0.8205,1)" font-family="'Liberation Sans', sans-serif" font-size="11.9" fill="#111" xml:space="preserve">*BEST MINIMUM THICKNESS OF THE PLATE IS <tspan font-weight="bold">2 mm</tspan></text>
<rect x="100.4" y="298" width="599.6" height="4" fill="#058b8b"/>
<rect x="398" y="0" width="4.2" height="600" fill="#058b8b"/>
<!-- watermarks -->
<g transform="translate(167.50,61.90)" opacity="0.84">
<path d="M0.6,0.6 H24.7 V5.2 H7.4 V12.3 H24.7 V18.6 H7.4 V25.4 H24.7 V31.1 H0.6 Z" fill="none" stroke="#484848" stroke-width="1.25" stroke-linejoin="round"/>
<line x1="30" x2="63" y1="0.7" y2="0.7" stroke="#6a6a6a" stroke-width="0.95"/>
<line x1="30" x2="63" y1="3.2" y2="3.2" stroke="#6a6a6a" stroke-width="0.95"/>
<line x1="30" x2="63" y1="5.7" y2="5.7" stroke="#6a6a6a" stroke-width="0.95"/>
<line x1="30" x2="63" y1="25.7" y2="25.7" stroke="#6a6a6a" stroke-width="0.95"/>
<line x1="30" x2="63" y1="28.4" y2="28.4" stroke="#6a6a6a" stroke-width="0.95"/>
<line x1="30" x2="63" y1="30.9" y2="30.9" stroke="#6a6a6a" stroke-width="0.95"/>
<text transform="translate(30.4,21.5) scale(0.86,1)" font-family="'Liberation Sans', sans-serif" font-size="19.5" fill="#484848" letter-spacing="2.1">nes</text>
</g>
<g transform="translate(171.25,210.25)" opacity="0.84">
<path d="M0.6,0.6 H24.7 V5.2 H7.4 V12.3 H24.7 V18.6 H7.4 V25.4 H24.7 V31.1 H0.6 Z" fill="none" stroke="#484848" stroke-width="1.25" stroke-linejoin="round"/>
<line x1="30" x2="63" y1="0.7" y2="0.7" stroke="#6a6a6a" stroke-width="0.95"/>
<line x1="30" x2="63" y1="3.2" y2="3.2" stroke="#6a6a6a" stroke-width="0.95"/>
<line x1="30" x2="63" y1="5.7" y2="5.7" stroke="#6a6a6a" stroke-width="0.95"/>
<line x1="30" x2="63" y1="25.7" y2="25.7" stroke="#6a6a6a" stroke-width="0.95"/>
<line x1="30" x2="63" y1="28.4" y2="28.4" stroke="#6a6a6a" stroke-width="0.95"/>
<line x1="30" x2="63" y1="30.9" y2="30.9" stroke="#6a6a6a" stroke-width="0.95"/>
<text transform="translate(30.4,21.5) scale(0.86,1)" font-family="'Liberation Sans', sans-serif" font-size="19.5" fill="#484848" letter-spacing="2.1">nes</text>
</g>
<g transform="translate(172.25,366.00)" opacity="0.84">
<path d="M0.6,0.6 H24.7 V5.2 H7.4 V12.3 H24.7 V18.6 H7.4 V25.4 H24.7 V31.1 H0.6 Z" fill="none" stroke="#484848" stroke-width="1.25" stroke-linejoin="round"/>
<line x1="30" x2="63" y1="0.7" y2="0.7" stroke="#6a6a6a" stroke-width="0.95"/>
<line x1="30" x2="63" y1="3.2" y2="3.2" stroke="#6a6a6a" stroke-width="0.95"/>
<line x1="30" x2="63" y1="5.7" y2="5.7" stroke="#6a6a6a" stroke-width="0.95"/>
<line x1="30" x2="63" y1="25.7" y2="25.7" stroke="#6a6a6a" stroke-width="0.95"/>
<line x1="30" x2="63" y1="28.4" y2="28.4" stroke="#6a6a6a" stroke-width="0.95"/>
<line x1="30" x2="63" y1="30.9" y2="30.9" stroke="#6a6a6a" stroke-width="0.95"/>
<text transform="translate(30.4,21.5) scale(0.86,1)" font-family="'Liberation Sans', sans-serif" font-size="19.5" fill="#484848" letter-spacing="2.1">nes</text>
</g>
<g transform="translate(172.60,505.50)" opacity="0.84">
<path d="M0.6,0.6 H24.7 V5.2 H7.4 V12.3 H24.7 V18.6 H7.4 V25.4 H24.7 V31.1 H0.6 Z" fill="none" stroke="#484848" stroke-width="1.25" stroke-linejoin="round"/>
<line x1="30" x2="63" y1="0.7" y2="0.7" stroke="#6a6a6a" stroke-width="0.95"/>
<line x1="30" x2="63" y1="3.2" y2="3.2" stroke="#6a6a6a" stroke-width="0.95"/>
<line x1="30" x2="63" y1="5.7" y2="5.7" stroke="#6a6a6a" stroke-width="0.95"/>
<line x1="30" x2="63" y1="25.7" y2="25.7" stroke="#6a6a6a" stroke-width="0.95"/>
<line x1="30" x2="63" y1="28.4" y2="28.4" stroke="#6a6a6a" stroke-width="0.95"/>
<line x1="30" x2="63" y1="30.9" y2="30.9" stroke="#6a6a6a" stroke-width="0.95"/>
<text transform="translate(30.4,21.5) scale(0.86,1)" font-family="'Liberation Sans', sans-serif" font-size="19.5" fill="#484848" letter-spacing="2.1">nes</text>
</g>
<g transform="translate(358.50,88.75)" opacity="0.84">
<path d="M0.6,0.6 H24.7 V5.2 H7.4 V12.3 H24.7 V18.6 H7.4 V25.4 H24.7 V31.1 H0.6 Z" fill="none" stroke="#484848" stroke-width="1.25" stroke-linejoin="round"/>
<line x1="30" x2="63" y1="0.7" y2="0.7" stroke="#6a6a6a" stroke-width="0.95"/>
<line x1="30" x2="63" y1="3.2" y2="3.2" stroke="#6a6a6a" stroke-width="0.95"/>
<line x1="30" x2="63" y1="5.7" y2="5.7" stroke="#6a6a6a" stroke-width="0.95"/>
<line x1="30" x2="63" y1="25.7" y2="25.7" stroke="#6a6a6a" stroke-width="0.95"/>
<line x1="30" x2="63" y1="28.4" y2="28.4" stroke="#6a6a6a" stroke-width="0.95"/>
<line x1="30" x2="63" y1="30.9" y2="30.9" stroke="#6a6a6a" stroke-width="0.95"/>
<text transform="translate(30.4,21.5) scale(0.86,1)" font-family="'Liberation Sans', sans-serif" font-size="19.5" fill="#484848" letter-spacing="2.1">nes</text>
</g>
<g transform="translate(364.40,240.30)" opacity="0.84">
<path d="M0.6,0.6 H24.7 V5.2 H7.4 V12.3 H24.7 V18.6 H7.4 V25.4 H24.7 V31.1 H0.6 Z" fill="none" stroke="#484848" stroke-width="1.25" stroke-linejoin="round"/>
<line x1="30" x2="63" y1="0.7" y2="0.7" stroke="#6a6a6a" stroke-width="0.95"/>
<line x1="30" x2="63" y1="3.2" y2="3.2" stroke="#6a6a6a" stroke-width="0.95"/>
<line x1="30" x2="63" y1="5.7" y2="5.7" stroke="#6a6a6a" stroke-width="0.95"/>
<line x1="30" x2="63" y1="25.7" y2="25.7" stroke="#6a6a6a" stroke-width="0.95"/>
<line x1="30" x2="63" y1="28.4" y2="28.4" stroke="#6a6a6a" stroke-width="0.95"/>
<line x1="30" x2="63" y1="30.9" y2="30.9" stroke="#6a6a6a" stroke-width="0.95"/>
<text transform="translate(30.4,21.5) scale(0.86,1)" font-family="'Liberation Sans', sans-serif" font-size="19.5" fill="#484848" letter-spacing="2.1">nes</text>
</g>
<g transform="translate(363.10,381.25)" opacity="0.84">
<path d="M0.6,0.6 H24.7 V5.2 H7.4 V12.3 H24.7 V18.6 H7.4 V25.4 H24.7 V31.1 H0.6 Z" fill="none" stroke="#484848" stroke-width="1.25" stroke-linejoin="round"/>
<line x1="30" x2="63" y1="0.7" y2="0.7" stroke="#6a6a6a" stroke-width="0.95"/>
<line x1="30" x2="63" y1="3.2" y2="3.2" stroke="#6a6a6a" stroke-width="0.95"/>
<line x1="30" x2="63" y1="5.7" y2="5.7" stroke="#6a6a6a" stroke-width="0.95"/>
<line x1="30" x2="63" y1="25.7" y2="25.7" stroke="#6a6a6a" stroke-width="0.95"/>
<line x1="30" x2="63" y1="28.4" y2="28.4" stroke="#6a6a6a" stroke-width="0.95"/>
<line x1="30" x2="63" y1="30.9" y2="30.9" stroke="#6a6a6a" stroke-width="0.95"/>
<text transform="translate(30.4,21.5) scale(0.86,1)" font-family="'Liberation Sans', sans-serif" font-size="19.5" fill="#484848" letter-spacing="2.1">nes</text>
</g>
<g transform="translate(363.25,502.75)" opacity="0.84">
<path d="M0.6,0.6 H24.7 V5.2 H7.4 V12.3 H24.7 V18.6 H7.4 V25.4 H24.7 V31.1 H0.6 Z" fill="none" stroke="#484848" stroke-width="1.25" stroke-linejoin="round"/>
<line x1="30" x2="63" y1="0.7" y2="0.7" stroke="#6a6a6a" stroke-width="0.95"/>
<line x1="30" x2="63" y1="3.2" y2="3.2" stroke="#6a6a6a" stroke-width="0.95"/>
<line x1="30" x2="63" y1="5.7" y2="5.7" stroke="#6a6a6a" stroke-width="0.95"/>
<line x1="30" x2="63" y1="25.7" y2="25.7" stroke="#6a6a6a" stroke-width="0.95"/>
<line x1="30" x2="63" y1="28.4" y2="28.4" stroke="#6a6a6a" stroke-width="0.95"/>
<line x1="30" x2="63" y1="30.9" y2="30.9" stroke="#6a6a6a" stroke-width="0.95"/>
<text transform="translate(30.4,21.5) scale(0.86,1)" font-family="'Liberation Sans', sans-serif" font-size="19.5" fill="#484848" letter-spacing="2.1">nes</text>
</g>
<g transform="translate(552.50,64.50)" opacity="0.84">
<path d="M0.6,0.6 H24.7 V5.2 H7.4 V12.3 H24.7 V18.6 H7.4 V25.4 H24.7 V31.1 H0.6 Z" fill="none" stroke="#484848" stroke-width="1.25" stroke-linejoin="round"/>
<line x1="30" x2="63" y1="0.7" y2="0.7" stroke="#6a6a6a" stroke-width="0.95"/>
<line x1="30" x2="63" y1="3.2" y2="3.2" stroke="#6a6a6a" stroke-width="0.95"/>
<line x1="30" x2="63" y1="5.7" y2="5.7" stroke="#6a6a6a" stroke-width="0.95"/>
<line x1="30" x2="63" y1="25.7" y2="25.7" stroke="#6a6a6a" stroke-width="0.95"/>
<line x1="30" x2="63" y1="28.4" y2="28.4" stroke="#6a6a6a" stroke-width="0.95"/>
<line x1="30" x2="63" y1="30.9" y2="30.9" stroke="#6a6a6a" stroke-width="0.95"/>
<text transform="translate(30.4,21.5) scale(0.86,1)" font-family="'Liberation Sans', sans-serif" font-size="19.5" fill="#484848" letter-spacing="2.1">nes</text>
</g>
<g transform="translate(560.00,215.60)" opacity="0.84">
<path d="M0.6,0.6 H24.7 V5.2 H7.4 V12.3 H24.7 V18.6 H7.4 V25.4 H24.7 V31.1 H0.6 Z" fill="none" stroke="#484848" stroke-width="1.25" stroke-linejoin="round"/>
<line x1="30" x2="63" y1="0.7" y2="0.7" stroke="#6a6a6a" stroke-width="0.95"/>
<line x1="30" x2="63" y1="3.2" y2="3.2" stroke="#6a6a6a" stroke-width="0.95"/>
<line x1="30" x2="63" y1="5.7" y2="5.7" stroke="#6a6a6a" stroke-width="0.95"/>
<line x1="30" x2="63" y1="25.7" y2="25.7" stroke="#6a6a6a" stroke-width="0.95"/>
<line x1="30" x2="63" y1="28.4" y2="28.4" stroke="#6a6a6a" stroke-width="0.95"/>
<line x1="30" x2="63" y1="30.9" y2="30.9" stroke="#6a6a6a" stroke-width="0.95"/>
<text transform="translate(30.4,21.5) scale(0.86,1)" font-family="'Liberation Sans', sans-serif" font-size="19.5" fill="#484848" letter-spacing="2.1">nes</text>
</g>
<g transform="translate(557.00,364.00)" opacity="0.84">
<path d="M0.6,0.6 H24.7 V5.2 H7.4 V12.3 H24.7 V18.6 H7.4 V25.4 H24.7 V31.1 H0.6 Z" fill="none" stroke="#484848" stroke-width="1.25" stroke-linejoin="round"/>
<line x1="30" x2="63" y1="0.7" y2="0.7" stroke="#6a6a6a" stroke-width="0.95"/>
<line x1="30" x2="63" y1="3.2" y2="3.2" stroke="#6a6a6a" stroke-width="0.95"/>
<line x1="30" x2="63" y1="5.7" y2="5.7" stroke="#6a6a6a" stroke-width="0.95"/>
<line x1="30" x2="63" y1="25.7" y2="25.7" stroke="#6a6a6a" stroke-width="0.95"/>
<line x1="30" x2="63" y1="28.4" y2="28.4" stroke="#6a6a6a" stroke-width="0.95"/>
<line x1="30" x2="63" y1="30.9" y2="30.9" stroke="#6a6a6a" stroke-width="0.95"/>
<text transform="translate(30.4,21.5) scale(0.86,1)" font-family="'Liberation Sans', sans-serif" font-size="19.5" fill="#484848" letter-spacing="2.1">nes</text>
</g>
<g transform="translate(557.00,503.60)" opacity="0.84">
<path d="M0.6,0.6 H24.7 V5.2 H7.4 V12.3 H24.7 V18.6 H7.4 V25.4 H24.7 V31.1 H0.6 Z" fill="none" stroke="#484848" stroke-width="1.25" stroke-linejoin="round"/>
<line x1="30" x2="63" y1="0.7" y2="0.7" stroke="#6a6a6a" stroke-width="0.95"/>
<line x1="30" x2="63" y1="3.2" y2="3.2" stroke="#6a6a6a" stroke-width="0.95"/>
<line x1="30" x2="63" y1="5.7" y2="5.7" stroke="#6a6a6a" stroke-width="0.95"/>
<line x1="30" x2="63" y1="25.7" y2="25.7" stroke="#6a6a6a" stroke-width="0.95"/>
<line x1="30" x2="63" y1="28.4" y2="28.4" stroke="#6a6a6a" stroke-width="0.95"/>
<line x1="30" x2="63" y1="30.9" y2="30.9" stroke="#6a6a6a" stroke-width="0.95"/>
<text transform="translate(30.4,21.5) scale(0.86,1)" font-family="'Liberation Sans', sans-serif" font-size="19.5" fill="#484848" letter-spacing="2.1">nes</text>
</g>
<text transform="translate(239,174) scale(0.9243,1)" font-family="'DejaVu Sans', sans-serif" font-size="13.2" fill="#555" opacity="0.7" xml:space="preserve">enesmagnets.pl</text>
<text transform="translate(450.4,174) scale(0.9243,1)" font-family="'DejaVu Sans', sans-serif" font-size="13.2" fill="#555" opacity="0.7" xml:space="preserve">enesmagnets.pl</text>
<text transform="translate(237,330.6) scale(0.9243,1)" font-family="'DejaVu Sans', sans-serif" font-size="13.2" fill="#555" opacity="0.7" xml:space="preserve">enesmagnets.pl</text>
<text transform="translate(238.6,456) scale(0.9243,1)" font-family="'DejaVu Sans', sans-serif" font-size="13.2" fill="#555" opacity="0.7" xml:space="preserve">enesmagnets.pl</text>
<text transform="translate(448.4,330.6) scale(0.9243,1)" font-family="'DejaVu Sans', sans-serif" font-size="13.2" fill="#555" opacity="0.7" xml:space="preserve">enesmagnets.pl</text>
<text transform="translate(457.4,456) scale(0.9243,1)" font-family="'DejaVu Sans', sans-serif" font-size="13.2" fill="#555" opacity="0.7" xml:space="preserve">enesmagnets.pl</text>
<!-- weights -->
<g transform="translate(340,182)">
<path fill-rule="evenodd" d="M0,-20 A20.2,20 0 1,1 -0.01,-20 Z M0,-9.3 A10.5,9.9 0 1,0 0.01,-9.3 Z" fill="#000"/>
<path d="M-23,12.5 H23 Q29,12.5 30.5,18.3 L42.8,67 Q45,75.7 36,75.7 H-36 Q-45,75.7 -42.8,67 L-30.5,18.3 Q-29,12.5 -23,12.5 Z" fill="#000"/>
<text transform="translate(-19.7,36.6) scale(0.7984,1)" font-family="'Liberation Sans', sans-serif" font-size="19.6" fill="#d9cb2f" stroke="#d9cb2f" stroke-width="0.3" xml:space="preserve">*MAX</text>
<text transform="translate(-35.2,65.4) scale(0.7836,1)" font-family="'Liberation Sans', sans-serif" font-size="23" font-weight="bold" fill="#27d3da" stroke="#27d3da" stroke-width="0.5" xml:space="preserve">~12.1</text>
<text transform="translate(16.3,65.4) scale(0.8589,1)" font-family="'Liberation Sans', sans-serif" font-size="16.4" fill="#27d3da" xml:space="preserve">kG</text>
</g>
<g transform="translate(640,182)">
<path fill-rule="evenodd" d="M0,-20 A20.2,20 0 1,1 -0.01,-20 Z M0,-9.3 A10.5,9.9 0 1,0 0.01,-9.3 Z" fill="#000"/>
<path d="M-23,12.5 H23 Q29,12.5 30.5,18.3 L42.8,67 Q45,75.7 36,75.7 H-36 Q-45,75.7 -42.8,67 L-30.5,18.3 Q-29,12.5 -23,12.5 Z" fill="#000"/>
<text transform="translate(-19.7,36.6) scale(0.7984,1)" font-family="'Liberation Sans', sans-serif" font-size="19.6" fill="#d9cb2f" stroke="#d9cb2f" stroke-width="0.3" xml:space="preserve">*MAX</text>
<text transform="translate(-31.3,65.4) scale(0.9294,1)" font-family="'Liberation Sans', sans-serif" font-size="23" font-weight="bold" fill="#27d3da" stroke="#27d3da" stroke-width="0.5" xml:space="preserve">~6.6</text>
<text transform="translate(13.2,65.4) scale(0.8589,1)" font-family="'Liberation Sans', sans-serif" font-size="16.4" fill="#27d3da" xml:space="preserve">kG</text>
</g>
<g transform="translate(340,481.3)">
<path fill-rule="evenodd" d="M0,-20 A20.2,20 0 1,1 -0.01,-20 Z M0,-9.3 A10.5,9.9 0 1,0 0.01,-9.3 Z" fill="#000"/>
<path d="M-23,12.5 H23 Q29,12.5 30.5,18.3 L42.8,67 Q45,75.7 36,75.7 H-36 Q-45,75.7 -42.8,67 L-30.5,18.3 Q-29,12.5 -23,12.5 Z" fill="#000"/>
<text transform="translate(-19.7,36.6) scale(0.7984,1)" font-family="'Liberation Sans', sans-serif" font-size="19.6" fill="#d9cb2f" stroke="#d9cb2f" stroke-width="0.3" xml:space="preserve">*MAX</text>
<text transform="translate(-36,65.4) scale(0.8712,1)" font-family="'Liberation Sans', sans-serif" font-size="23" font-weight="bold" fill="#27d3da" stroke="#27d3da" stroke-width="0.5" xml:space="preserve">~2.43</text>
<text transform="translate(18.9,65.4) scale(0.8589,1)" font-family="'Liberation Sans', sans-serif" font-size="16.4" fill="#27d3da" xml:space="preserve">kG</text>
</g>
<g transform="translate(640,481.3)">
<path fill-rule="evenodd" d="M0,-20 A20.2,20 0 1,1 -0.01,-20 Z M0,-9.3 A10.5,9.9 0 1,0 0.01,-9.3 Z" fill="#000"/>
<path d="M-23,12.5 H23 Q29,12.5 30.5,18.3 L42.8,67 Q45,75.7 36,75.7 H-36 Q-45,75.7 -42.8,67 L-30.5,18.3 Q-29,12.5 -23,12.5 Z" fill="#000"/>
<text transform="translate(-19.7,36.6) scale(0.7984,1)" font-family="'Liberation Sans', sans-serif" font-size="19.6" fill="#d9cb2f" stroke="#d9cb2f" stroke-width="0.3" xml:space="preserve">*MAX</text>
<text transform="translate(-35.5,65.4) scale(0.8643,1)" font-family="'Liberation Sans', sans-serif" font-size="23" font-weight="bold" fill="#27d3da" stroke="#27d3da" stroke-width="0.5" xml:space="preserve">~1.33</text>
<text transform="translate(17.8,65.4) scale(0.8589,1)" font-family="'Liberation Sans', sans-serif" font-size="16.4" fill="#27d3da" xml:space="preserve">kG</text>
</g>
</svg></body></html>
